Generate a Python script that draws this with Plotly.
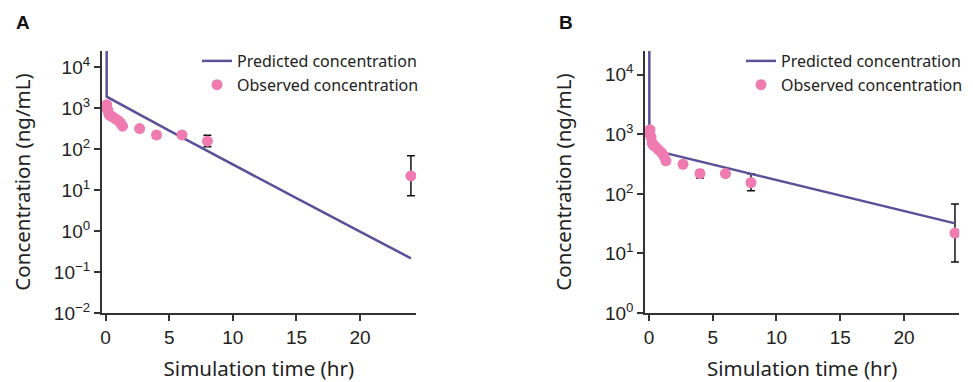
import plotly.graph_objects as go

# Observed data (same in both panels)
obs_t = [0.0, 0.083, 0.167, 0.25, 0.33, 0.5, 0.75, 1.0, 1.17, 1.33, 2.67, 4, 6, 8, 24]
obs_c = [1050, 1200, 900, 720, 660, 620, 550, 490, 430, 360, 315, 220, 220, 155, 22]
err_t = [4, 8, 24]
err_c = [220, 155, 22]
err_plus = [30, 62, 46]
err_minus = [35, 42, 14.8]

# Predicted curves
predA_t = [0.08, 0.08, 5, 10, 15, 20, 24]
predA_c = [40000, 1890, 280, 43, 6.3, 0.96, 0.216]
predB_t = [0.03, 0.03, 0.3, 0.8, 1.4, 10, 24]
predB_c = [40000, 1100, 750, 560, 480, 170, 32]

A_yticks = [-2, -1, 0, 1, 2, 3, 4]
B_yticks = [0, 1, 2, 3, 4]
x_ticks = [0, 5, 10, 15, 20]
x_title = "Simulation time (hr)"
y_title = "Concentration (ng/mL)"

def sup(p):
    return "10<sup>" + (str(p) if p >= 0 else "\u2212" + str(-p)) + "</sup>"

LINE = "#5a5199"
PINK = "#ef7bb1"
AX = "#333333"
TFONT = "Liberation Sans"
LFONT = "Noto Sans"

fig = go.Figure()

for i, (pt, pc) in enumerate([(predA_t, predA_c), (predB_t, predB_c)]):
    xa = "x" if i == 0 else "x2"
    ya = "y" if i == 0 else "y2"
    lg = "legend" if i == 0 else "legend2"
    fig.add_trace(go.Scatter(x=err_t, y=err_c, mode="markers", xaxis=xa, yaxis=ya,
                             marker=dict(size=10, color=PINK, opacity=0),
                             error_y=dict(type="data", symmetric=False, array=err_plus,
                                          arrayminus=err_minus, color="#111111",
                                          thickness=1.5, width=4),
                             showlegend=False, hoverinfo="skip"))
    fig.add_trace(go.Scatter(x=pt, y=pc, mode="lines", xaxis=xa, yaxis=ya,
                             line=dict(color=LINE, width=2.5),
                             name="Predicted concentration", legend=lg))
    fig.add_trace(go.Scatter(x=obs_t, y=obs_c, mode="markers", xaxis=xa, yaxis=ya,
                             marker=dict(size=11, color=PINK),
                             name="Observed concentration", legend=lg))

# The page body has an 8px margin; lay out in reference pixels and shift.
OFF = 8
W, H = 973 - OFF, 382 - OFF
T = 51 - OFF          # plot top in figure px
B = 382 - 313         # bottom margin
PH = H - T - B

def fx(px):  # reference x pixel -> paper fraction
    return (px - OFF) / W

def fy(py):  # reference y pixel -> paper fraction (relative to plot area)
    return (H - B - (py - OFF)) / PH

axis_common = dict(showline=True, linecolor=AX, linewidth=1.5, ticks="outside",
                   tickcolor=AX, tickwidth=1.5, ticklen=6, showgrid=False, zeroline=False,
                   automargin=False,
                   tickfont=dict(family=TFONT, size=19, color="#222"))
tfont = dict(family=LFONT, size=20.5, color="#222")

fig.update_layout(
    width=W, height=H,
    margin=dict(l=0, r=0, t=T, b=B, autoexpand=False),
    paper_bgcolor="white", plot_bgcolor="white",
    xaxis=dict(domain=[fx(101.7), fx(416)], range=[-0.31, 24.4], tickvals=x_ticks,
               anchor="y", title=dict(text=x_title, font=tfont, standoff=18),
               **axis_common),
    yaxis=dict(type="log", range=[-2, 4.39], tickvals=[10 ** p for p in A_yticks],
               ticktext=[sup(p) for p in A_yticks], anchor="x",
               title=dict(text=y_title, font=tfont, standoff=20),
               **axis_common),
    xaxis2=dict(domain=[fx(645), fx(959.3)], range=[-0.31, 24.34], tickvals=x_ticks,
                anchor="y2", title=dict(text=x_title, font=tfont, standoff=18),
                **axis_common),
    yaxis2=dict(type="log", range=[0, 4.40], tickvals=[10 ** p for p in B_yticks],
                ticktext=[sup(p) for p in B_yticks], anchor="x2",
                title=dict(text=y_title, font=tfont, standoff=28),
                **axis_common),
    legend=dict(x=fx(197), y=fy(44), xanchor="left", yanchor="top", bgcolor="rgba(0,0,0,0)",
                font=dict(family=LFONT, size=16, color="#222"), itemwidth=30),
    legend2=dict(x=fx(741), y=fy(44), xanchor="left", yanchor="top", bgcolor="rgba(0,0,0,0)",
                 font=dict(family=LFONT, size=16, color="#222"), itemwidth=30),
    annotations=[
        dict(text="<b>A</b>", x=fx(14), y=fy(22), xref="paper", yref="paper",
             yanchor="middle", xanchor="left", showarrow=False,
             font=dict(family=TFONT, size=19, color="#111")),
        dict(text="<b>B</b>", x=fx(557), y=fy(22), xref="paper", yref="paper",
             yanchor="middle", xanchor="left", showarrow=False,
             font=dict(family=TFONT, size=19, color="#111")),
    ],
)
fig.write_html("out.html")
